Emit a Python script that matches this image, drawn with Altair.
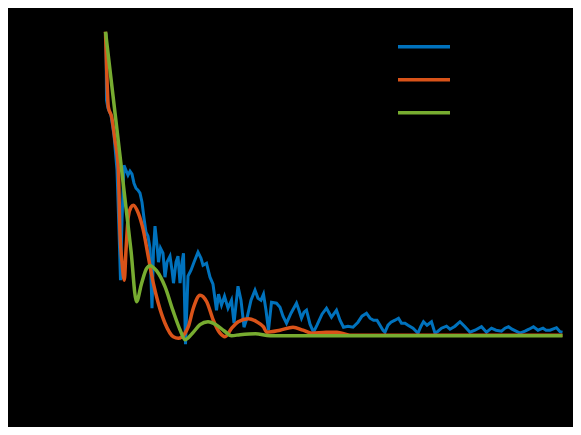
import altair as alt
import pandas as pd

series_names = ["data1", "data2", "data3"]
series_colors = ["#0072BD", "#D95319", "#77AC30"]

blue_x = [0.5, 1, 2.5, 5.5, 8.5, 11.5, 13.5, 15, 16.5, 18.5, 20.5, 22.5, 24.5, 26.5, 28.5, 30.5,
          32.5, 34.5, 36.5, 38.5, 40.5, 42.5, 44.5, 46.5, 48, 49.5, 51.5, 53, 55, 57.5, 59.5, 61.5,
          64.5, 66.5, 68, 70.5, 72.5, 74.5, 76.5, 78, 80, 82.5, 85.5, 88.5, 92.5, 95.5, 97.5, 101,
          104.5, 107.5, 111, 113, 116, 119, 122.5, 126, 128.5, 132.5, 135.5, 138.5, 141.5, 145.5,
          149.5, 152.5, 155.5, 158, 160.5, 163, 166, 171, 174.5, 177.5, 181, 185.5, 191, 193.5,
          196, 198.5, 201, 204.5, 208, 211.5, 216.5, 221, 226, 231, 234.5, 238, 242.5, 247.5,
          252.5, 256.5, 261, 264.5, 268, 271.5, 274.5, 277.5, 279.5, 282.5, 285.5, 289.5, 293,
          296, 299.5, 302.5, 307.5, 312.5, 315.5, 318, 321.5, 326, 329.5, 332.5, 336, 341, 344.5,
          349.5, 354.5, 359.5, 364.5, 369.5, 376, 381, 386, 390.5, 396, 399.5, 403, 406.5, 410.5,
          414.5, 419.5, 423.5, 428, 432.5, 437.5, 440.5, 444.5, 451, 454.5, 457]
blue_y = [302.5, 235.5, 227.5, 220.5, 200.5, 165.5, 105.5, 55.5, 115.5, 170.5, 165.5, 160.5, 164.5,
          161.5, 152.5, 147.5, 145.5, 142.5, 133.5, 117.5, 103.5, 99.5, 87.5, 27.5, 85.5, 109.5,
          90.5, 73.5, 87.5, 82.5, 58.5, 73.5, 79.5, 65.5, 52.5, 73.5, 79.5, 52.5, 73.5, 82.5, -8.5,
          59.5, 65.5, 73.5, 83.5, 77.5, 70.5, 72.5, 58.5, 51.5, 25.5, 41.5, 30.5, 39.5, 27.5, 35.5,
          12.5, 49.5, 35.5, 8.5, 17.5, 35.5, 45.5, 37.5, 35.5, 41.5, 25.5, 5.5, 33.5, 32.5, 28.5,
          19.5, 12.5, 22.5, 32.5, 25.5, 17.5, 23.5, 25.5, 11.5, 3.5, 10.5, 21.5, 27.5, 18.5, 25.5,
          15.5, 8.5, 9.5, 8.5, 13.5, 19.5, 22.5, 17.5, 15.5, 15.5, 10.5, 5.5, 3.5, 10.5, 13.5,
          15.5, 17.5, 12.5, 12.5, 10.5, 7.5, 2.5, 9.5, 14, 10.5, 14, 2.5, 4.5, 7.5, 9.5, 6.5, 9.5,
          14, 9, 3.5, 5.5, 9, 3.5, 7.5, 5.5, 4.5, 7.5, 9, 6.5, 4.5, 2.5, 4.5, 6.5, 9, 5.5, 7.5,
          5.5, 5.5, 8, 4, 3.5]

orange_x = [0, 1.2, 2.8, 6.2, 9.5, 12.8, 14.5, 16.5, 18.8, 20.5, 22.8, 25.5, 27.8, 32.8, 37.8,
            42.8, 47.8, 52.8, 59.5, 67.8, 72.8, 79.5, 82.8, 87.8, 94.5, 101.2, 107.8, 114.5,
            119.5, 126.2, 132.8, 142.8, 151.2, 157.8, 161.5, 174.5, 187.5, 197.5, 206.5, 220.5,
            231.5, 244.5, 457]
orange_y = [304, 265.5, 229, 218.5, 195.5, 167.5, 102.5, 73.5, 55.5, 85.5, 119, 128.5, 130.5,
            122.5, 105.5, 79, 52.5, 32.5, 12.5, -1, -2.5, 2.5, 9, 27.5, 40.5, 34, 15.5, 2.5, -1,
            7.5, 14, 17, 14, 9, 3.5, 5.5, 8.5, 5.5, 2.5, 3.5, 3.5, 0.5, 0.5]

green_x = [0, 7.5, 14.5, 20.5, 25.5, 31, 36, 41, 44.5, 51, 59.5, 67.5, 74.5, 79.5, 86.5, 94.5,
           102.5, 110.5, 118.5, 126, 134.5, 150, 164.5, 200, 300, 457]
green_y = [304, 240, 180, 128, 85, 34, 52, 67, 70, 65, 49, 25, 6, -4, 2, 11, 14, 11, 5, 0, 1, 2,
           0, 0, 0, 0]

frames = []
for name, xs, ys in zip(series_names, [blue_x, orange_x, green_x], [blue_y, orange_y, green_y]):
    frames.append(pd.DataFrame({"x": xs, "y": ys, "series": name}))

x_enc = alt.X("x:Q", scale=alt.Scale(domain=[0, 457], nice=False, zero=False),
              axis=alt.Axis(title=None, labelColor="black", domainColor="black",
                            tickColor="black", grid=False))
y_enc = alt.Y("y:Q", scale=alt.Scale(domain=[0, 304], nice=False, zero=False),
              axis=alt.Axis(title=None, labelColor="black", domainColor="black",
                            tickColor="black", grid=False))
color_enc = alt.Color("series:N",
                      scale=alt.Scale(domain=series_names, range=series_colors),
                      legend=alt.Legend(title=None, orient="none", legendX=303.5, legendY=0,
                                        symbolType="M-2,0H2", symbolSize=676,
                                        symbolStrokeWidth=3.5, labelFontSize=14,
                                        labelOffset=34,
                                        labelColor="black", rowPadding=11,
                                        strokeColor="black", padding=0))

layers = []
for i, df in enumerate(frames):
    interp = "linear" if i == 0 else "monotone"
    sw = 3 if i == 0 else 3.5
    layers.append(alt.Chart(df).mark_line(interpolate=interp, strokeWidth=sw).encode(
        x=x_enc, y=y_enc, color=color_enc, order=alt.Order("x:Q")))

chart = alt.layer(*layers).properties(
    width=457, height=304, background="black",
    padding={"left": 97.5, "top": 23.7, "right": 10.5, "bottom": 91.3},
    autosize=alt.AutoSizeParams(type="none"),
).configure_view(stroke=None)

chart.save("out.html", embed_options={"renderer": "svg", "actions": False})
